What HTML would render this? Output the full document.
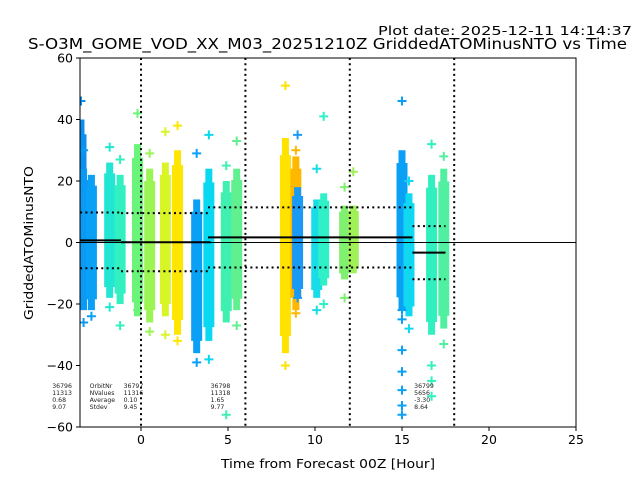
<!DOCTYPE html>
<html><head><meta charset="utf-8"><style>
body{margin:0;background:#fff;}
svg{display:block;font-family:"DejaVu Sans","Liberation Sans",sans-serif;}
</style></head><body>
<svg id="c" width="640" height="480" viewBox="0 0 640 480">
<text x="378" y="35" font-size="12" textLength="254" lengthAdjust="spacingAndGlyphs">Plot date: 2025-12-11 14:14:37</text>
<text x="28" y="49" font-size="15" textLength="599" lengthAdjust="spacingAndGlyphs">S-O3M_GOME_VOD_XX_M03_20251210Z GriddedATOMinusNTO vs Time</text>
<text x="166" y="33" font-size="12.5" textLength="154" lengthAdjust="spacingAndGlyphs" transform="translate(0 486) rotate(-90)">GriddedATOMinusNTO</text>
<text x="221" y="468" font-size="12.5" textLength="214" lengthAdjust="spacingAndGlyphs">Time from Forecast 00Z [Hour]</text>
<g id="plot"></g>
</svg>
<script>
const colX=[-3.45,-3.3,-2.85,-1.8,-1.2,-0.2,0.5,1.4,2.1,3.2,3.9,4.9,5.5,8.3,8.9,9.0,10.1,10.5,11.7,12.2,15.0,15.4,16.7,17.4];
const colHi=[40,24,22,26,22,32,24,26,30,14,24,20,24,34,28,18,14,16,12,12,30,16,22,24];
const colLo=[-20,-22,-22,-18,-20,-24,-26,-24,-30,-36,-32,-26,-22,-36,-22,-18,-18,-14,-12,-10,-22,-24,-30,-28];
const colColor=["#0a8ff0","#0a9af5","#0aa0f5","#22e6d4","#33f0c0","#6af57a","#9af555","#d8f528","#ffe600","#0aa0f5","#08d8f0","#40f0b0","#60f090","#ffe200","#ffb800","#1a9af5","#18dce8","#30f0c8","#80f070","#a0f058","#0aa0f5","#10d8f0","#30f0c0","#50f0a0"];
const outCol=[0,1,1,2,3,3,4,4,5,5,6,6,7,7,8,8,9,9,10,10,11,11,12,12,13,13,14,14,15,15,16,16,17,17,18,18,19,20,20,21,21,22,22,22,23,23,22,20,20,20,20,20,20];
const outVal=[46,30,-26,-24,31,-21,27,-27,42,-22,29,-29,36,-30,38,-32,29,-39,35,-38,25,-56,33,-27,51,-40,30,-23,35,-18,24,-22,41,-20,18,-18,23,46,-22,20,-28,32,-50,-45,28,-33,-40,-25,-35,-42,-48,-53,-56];
const xTicks=[0,5,10,15,20,25];
const yTicks=[60,40,20,0,-20,-40,-60];
const segStart=[-3.5,-1.15,3.85,15.6];
const segEnd=[-1.15,4.0,15.6,17.5];
const segMean=[0.68,0.10,1.65,-3.30];
const segStd=[9.07,9.45,9.77,8.64];
const vLines=[0,6,12,18];
const annX=[-5.1,-2.95,-1.0,4.0,15.7];
const annL1=["36796","OrbitNr","36797","36798","36799"];
const annL2=["11313","NValues","11316","11318","5656"];
const annL3=["0.68","Average","0.10","1.65","-3.30"];
const annL4=["9.07","Stdev","9.45","9.77","8.64"];

const L=80,R=576,T=58,B=427;
const X=v=>141+v*17.4, Y=v=>242.5-v*3.075;
const NS="http://www.w3.org/2000/svg";
const g=document.getElementById('plot');
function mk(t,a,p){const e=document.createElementNS(NS,t);for(const k in a)e.setAttribute(k,a[k]);(p||g).appendChild(e);return e;}
const clip=mk('clipPath',{id:'cl'});mk('rect',{x:L,y:T,width:R-L,height:B-T},clip);
const data=mk('g',{'clip-path':'url(#cl)'});


for(let i=0;i<colX.length;i++){
  const span=colHi[i]-colLo[i];
  const outer=mk('rect',{x:X(colX[i])-5.5,y:Y(colHi[i]-span*0.08),width:11,height:Y(colLo[i]+span*0.08)-Y(colHi[i]-span*0.08),fill:colColor[i]},data);
  
  
  const inner=mk('rect',{x:X(colX[i])-3.5,y:Y(colHi[i]),width:7,height:Y(colLo[i])-Y(colHi[i]),fill:colColor[i]},data);
  
  
}
for(let j=0;j<outCol.length;j++){
  const cx=X(colX[outCol[j]]),cy=Y(outVal[j]);
  const p=mk('path',{d:`M${cx-4.5} ${cy}H${cx+4.5}M${cx} ${cy-4.5}V${cy+4.5}`,stroke:colColor[outCol[j]],'stroke-width':2},data);
  
  
}
mk('line',{x1:L,x2:R,y1:Y(0),y2:Y(0),stroke:'#000','stroke-width':1,});
for(const v of vLines){
  const l=mk('line',{x1:X(v),x2:X(v),y1:T,y2:B,stroke:'#000','stroke-width':2,'stroke-dasharray':'2,3.3'});
  
  
}
for(let i=0;i<segMean.length;i++){
  const m=mk('line',{x1:X(segStart[i]),x2:X(segEnd[i]),y1:Y(segMean[i]),y2:Y(segMean[i]),stroke:'#000','stroke-width':2});
  
  
  for(const s of [1,-1]){
    const d=mk('line',{x1:X(segStart[i]),x2:X(segEnd[i]),y1:Y(segMean[i]+s*segStd[i]),y2:Y(segMean[i]+s*segStd[i]),stroke:'#000','stroke-width':2,'stroke-dasharray':'2,3.3'});
    
    
  }
}
for(let i=0;i<annX.length;i++){
  const t=mk('text',{x:X(annX[i]),y:388,'font-size':6.2,fill:'#222'});
  
  
  [annL1[i],annL2[i],annL3[i],annL4[i]].forEach((s,k)=>{const ts=mk('tspan',{x:X(annX[i]),dy:k?7:0},t);ts.textContent=s;});
}
mk('rect',{x:L,y:T,width:R-L,height:B-T,fill:'none',stroke:'#000','stroke-width':1,});
for(const v of xTicks){
  mk('line',{x1:X(v),x2:X(v),y1:B,y2:B+4,stroke:'#000'});
  const t=mk('text',{x:X(v),y:B+17,'text-anchor':'middle','font-size':12.5});
  t.textContent=v;
  
  
}
for(const v of yTicks){
  mk('line',{x1:L-4,x2:L,y1:Y(v),y2:Y(v),stroke:'#000'});
  const t=mk('text',{x:L-7,y:Y(v)+4.5,'text-anchor':'end','font-size':12.5});
  t.textContent=v<0?'\u2212'+(-v):v;
  
  
}
</script>
</body></html>
